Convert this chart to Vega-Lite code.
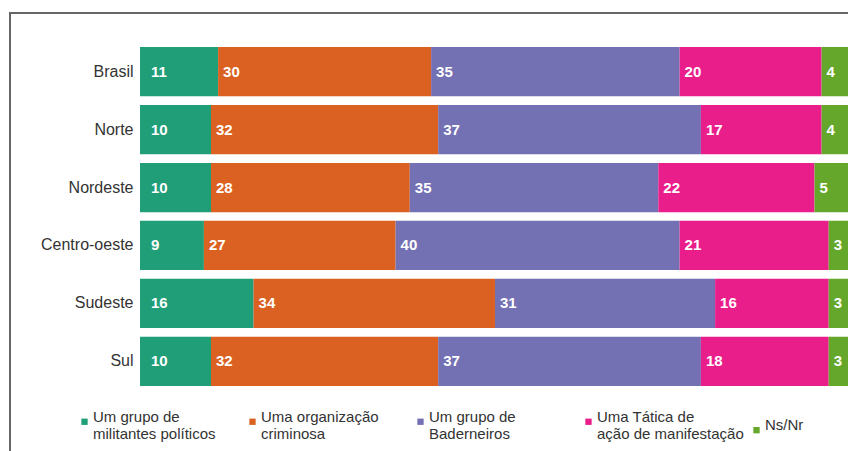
{
  "$schema": "https://vega.github.io/schema/vega-lite/v6.json",
  "width": 850,
  "height": 450,
  "autosize": {"type": "none"},
  "padding": {"left": 10, "top": 13, "right": 0, "bottom": 0},
  "background": "white",
  "config": {"view": {"stroke": "#666666", "strokeWidth": 2}, "font": "Liberation Sans"},
  "data": {"values": [
    {"region": "Brasil", "order": 1, "resp": "Um grupo de|militantes políticos", "value": 11},
    {"region": "Brasil", "order": 2, "resp": "Uma organização|criminosa", "value": 30},
    {"region": "Brasil", "order": 3, "resp": "Um grupo de|Baderneiros", "value": 35},
    {"region": "Brasil", "order": 4, "resp": "Uma Tática de|ação de manifestação", "value": 20},
    {"region": "Brasil", "order": 5, "resp": "Ns/Nr", "value": 4},
    {"region": "Norte", "order": 1, "resp": "Um grupo de|militantes políticos", "value": 10},
    {"region": "Norte", "order": 2, "resp": "Uma organização|criminosa", "value": 32},
    {"region": "Norte", "order": 3, "resp": "Um grupo de|Baderneiros", "value": 37},
    {"region": "Norte", "order": 4, "resp": "Uma Tática de|ação de manifestação", "value": 17},
    {"region": "Norte", "order": 5, "resp": "Ns/Nr", "value": 4},
    {"region": "Nordeste", "order": 1, "resp": "Um grupo de|militantes políticos", "value": 10},
    {"region": "Nordeste", "order": 2, "resp": "Uma organização|criminosa", "value": 28},
    {"region": "Nordeste", "order": 3, "resp": "Um grupo de|Baderneiros", "value": 35},
    {"region": "Nordeste", "order": 4, "resp": "Uma Tática de|ação de manifestação", "value": 22},
    {"region": "Nordeste", "order": 5, "resp": "Ns/Nr", "value": 5},
    {"region": "Centro-oeste", "order": 1, "resp": "Um grupo de|militantes políticos", "value": 9},
    {"region": "Centro-oeste", "order": 2, "resp": "Uma organização|criminosa", "value": 27},
    {"region": "Centro-oeste", "order": 3, "resp": "Um grupo de|Baderneiros", "value": 40},
    {"region": "Centro-oeste", "order": 4, "resp": "Uma Tática de|ação de manifestação", "value": 21},
    {"region": "Centro-oeste", "order": 5, "resp": "Ns/Nr", "value": 3},
    {"region": "Sudeste", "order": 1, "resp": "Um grupo de|militantes políticos", "value": 16},
    {"region": "Sudeste", "order": 2, "resp": "Uma organização|criminosa", "value": 34},
    {"region": "Sudeste", "order": 3, "resp": "Um grupo de|Baderneiros", "value": 31},
    {"region": "Sudeste", "order": 4, "resp": "Uma Tática de|ação de manifestação", "value": 16},
    {"region": "Sudeste", "order": 5, "resp": "Ns/Nr", "value": 3},
    {"region": "Sul", "order": 1, "resp": "Um grupo de|militantes políticos", "value": 10},
    {"region": "Sul", "order": 2, "resp": "Uma organização|criminosa", "value": 32},
    {"region": "Sul", "order": 3, "resp": "Um grupo de|Baderneiros", "value": 37},
    {"region": "Sul", "order": 4, "resp": "Uma Tática de|ação de manifestação", "value": 18},
    {"region": "Sul", "order": 5, "resp": "Ns/Nr", "value": 3}
  ]},
  "transform": [
    {"stack": "value", "groupby": ["region"], "sort": [{"field": "order"}], "as": ["x0", "x1"]}
  ],
  "encoding": {
    "y": {
      "field": "region", "type": "nominal",
      "sort": ["Brasil", "Norte", "Nordeste", "Centro-oeste", "Sudeste", "Sul"],
      "scale": {"range": [34, 373], "paddingInner": 0.15, "paddingOuter": 0},
      "axis": {"title": null, "domain": false, "ticks": false, "offset": -130, "labelPadding": 7, "labelFontSize": 16, "labelColor": "#333333", "labelFont": "Liberation Sans"}
    }
  },
  "layer": [
    {
      "mark": {"type": "bar"},
      "encoding": {
        "x": {"field": "x0", "type": "quantitative", "scale": {"domain": [-18.31, 101.41], "nice": false, "zero": false}, "axis": null},
        "x2": {"field": "x1"},
        "color": {
          "field": "resp", "type": "nominal",
          "scale": {
            "domain": ["Um grupo de|militantes políticos", "Uma organização|criminosa", "Um grupo de|Baderneiros", "Uma Tática de|ação de manifestação", "Ns/Nr"],
            "range": ["#1f9e78", "#db6122", "#7470b4", "#e91e8a", "#64a72a"]
          },
          "legend": {
            "title": null, "orient": "none", "legendX": 67, "legendY": 401,
            "direction": "horizontal", "columns": 5, "gridAlign": "all",
            "symbolType": "square", "symbolSize": 40, "symbolStrokeWidth": 0,
            "labelFontSize": 15, "labelLimit": 0, "labelOffset": 1, "labelColor": "#333333",
            "labelFont": "Liberation Sans", "labelBaseline": "alphabetic",
            "labelExpr": "split(datum.label, '|')",
            "columnPadding": 5
          }
        }
      }
    },
    {
      "transform": [{"filter": "datum.order == 1"}],
      "mark": {"type": "text", "align": "left", "baseline": "middle", "dx": 11, "fontWeight": "bold", "fontSize": 15, "color": "white"},
      "encoding": {"x": {"field": "x0", "type": "quantitative"}, "text": {"field": "value", "type": "quantitative"}}
    },
    {
      "transform": [{"filter": "datum.order > 1"}],
      "mark": {"type": "text", "align": "left", "baseline": "middle", "dx": 5, "fontWeight": "bold", "fontSize": 15, "color": "white"},
      "encoding": {"x": {"field": "x0", "type": "quantitative"}, "text": {"field": "value", "type": "quantitative"}}
    }
  ]
}
